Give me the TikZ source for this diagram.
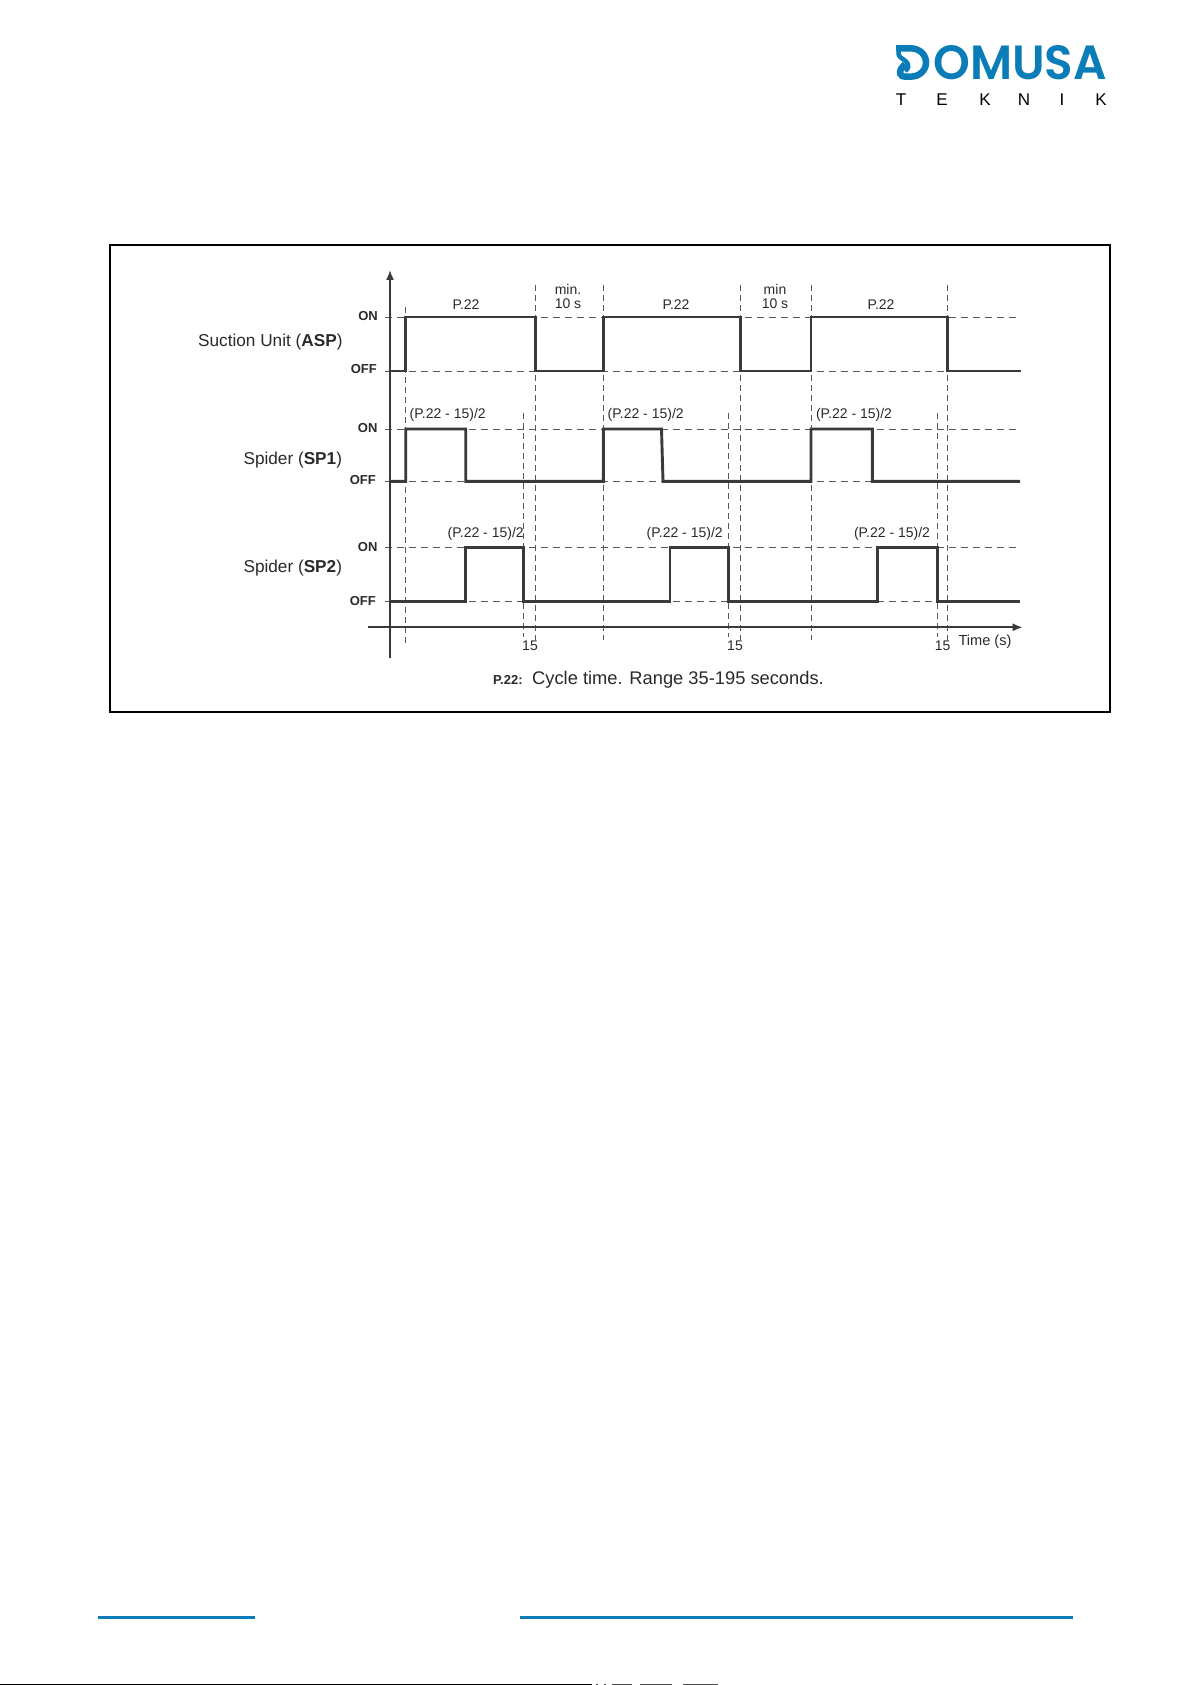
\documentclass[tikz,border=0pt]{standalone}
\usepackage{fontspec}
\setmainfont{Liberation Sans}
\newfontfamily\logofont{Poppins SemiBold}
\usetikzlibrary{arrows.meta}
\definecolor{wave}{HTML}{3A3A3A}
\definecolor{ink}{HTML}{2A2A2A}
\definecolor{brand}{HTML}{0A7DB8}
\tikzset{
  wavepath/.style={draw=wave,line width=2.9pt,line join=miter},
  hguide/.style={draw=wave!85,line width=0.9pt,dash pattern=on 7pt off 5pt},
  vguide/.style={draw=wave!85,line width=0.9pt,dash pattern=on 6pt off 4pt},
  axisline/.style={draw=wave,line width=1.7pt,-{Latex[length=10pt,width=8pt]}},
  framebox/.style={draw=black,line width=1.6pt},
  lbl/.style={inner sep=0pt,text=ink,font=\fontsize{14}{14}\selectfont},
  lvl/.style={inner sep=0pt,anchor=east,text=ink,font=\fontsize{13}{13}\selectfont\bfseries},
  sig/.style={inner sep=0pt,anchor=east,text=ink,font=\fontsize{17.2}{17.2}\selectfont},
  rulebar/.style={fill=brand,draw=none},
  logostroke/.style={draw=brand,line width=6.5pt,line cap=butt},
  tek/.style={inner sep=0pt,text=black,font=\fontsize{17}{17}\selectfont},
}
\begin{document}
\begin{tikzpicture}[x=1pt,y=-1pt]
\useasboundingbox (0,0) rectangle (1191,1685);
\fill[white] (0,0) rectangle (1191,1685);
% logo
\draw[logostroke] (896,48.3) -- (910,48.3) .. controls (920,48.3) and (926,55) .. (926,62.5) .. controls (926,70) and (920,76.7) .. (910,76.7) -- (905,76.7) .. controls (900,76.7) and (899,72) .. (901,69) .. controls (902,67) and (904,66) .. (905,64);
\draw[logostroke,line width=4.5pt] (898.5,48) -- (898.5,54) .. controls (899,58) and (904,59) .. (906.5,62) .. controls (909,65) and (909,69) .. (905,71);
\node[inner sep=0pt,anchor=east,text=brand,xscale=0.975,transform shape] (logo) at (1107,62.5) {\logofont\fontsize{48}{48}\selectfont OMUSA};
\foreach \n/\x/\t in {t1/901/T,t2/942/E,t3/985/K,t4/1024/N,t5/1062/I,t6/1101/K}
  \node[tek] (\t\n) at (\x,100) {\t};
% frame
\draw[framebox] (109.7,245) rectangle (1109.7,711.7);
% horizontal guides
\foreach \y in {317,371,429,481.3,547.7,601.7}
  \draw[hguide] (385,\y) -- (1020,\y);
% vertical guides
\draw[vguide] (405.7,307) -- (405.7,643);
\foreach \x in {535.3,603.3,740.3,811,947.7}
  \draw[vguide] (\x,285) -- (\x,640);
\foreach \x in {523.7,728.3,937.3}
  \draw[vguide] (\x,413) -- (\x,637);
% axes
\draw[axisline] (390,658) -- (390,270);
\draw[axisline] (368,627.3) -- (1022.7,627.3);
% waves
\draw[wavepath] (390,371) -- (405.7,371) -- (405.7,317) -- (535.3,317) -- (535.3,371) -- (603.3,371) -- (603.3,317) -- (740.3,317) -- (740.3,371) -- (811,371) -- (811,317) -- (947.7,317) -- (947.7,371) -- (1021,371);
\draw[wavepath] (390,481.3) -- (405.7,481.3) -- (405.7,429) -- (465.7,429) -- (465.7,481.3) -- (603.3,481.3) -- (603.3,429) -- (661.5,429) -- (663,481.3) -- (811,481.3) -- (811,429) -- (872.3,429) -- (872.3,481.3) -- (1020,481.3);
\draw[wavepath] (390,601.7) -- (465.7,601.7) -- (465.7,547.7) -- (523.7,547.7) -- (523.7,601.7) -- (670,601.7) -- (670,547.7) -- (728.3,547.7) -- (728.3,601.7) -- (877.7,601.7) -- (877.7,547.7) -- (937.3,547.7) -- (937.3,601.7) -- (1020,601.7);
% level labels
\node[lvl] (on1) at (378,315.7) {ON};
\node[lvl] (off1) at (377,369.5) {OFF};
\node[lvl] (on2) at (377.6,428) {ON};
\node[lvl] (off2) at (376,480) {OFF};
\node[lvl] (on3) at (377.6,547) {ON};
\node[lvl] (off3) at (376,600.7) {OFF};
% signal names
\node[sig] (asp) at (342.7,341.7) {Suction Unit (\textbf{ASP})};
\node[sig] (sp1) at (342.2,460) {Spider (\textbf{SP1})};
\node[sig] (sp2) at (342.2,568) {Spider (\textbf{SP2})};
% top labels
\node[lbl] (pa) at (466,305) {P.22};
\node[lbl] (pb) at (676,305) {P.22};
\node[lbl] (pc) at (881,305) {P.22};
\node[lbl] (ma) at (568,289.5) {min.};
\node[lbl] (ma2) at (568,303.5) {10 s};
\node[lbl] (mb) at (775,289.5) {min};
\node[lbl] (mb2) at (775,303.5) {10 s};
\foreach \n/\x/\y in {fa/447.7/415,fb/645.7/415,fc/854/415,fd/485.7/534,fe/684.7/534,ff/892/534}
  \node[lbl] (\n) at (\x,\y) {(P.22 - 15)/2};
\node[lbl] (ca) at (530,646) {15};
\node[lbl] (cb) at (735,646) {15};
\node[lbl] (cc) at (942.7,646) {15};
\node[lbl,font=\fontsize{14.6}{14.6}\selectfont] (tm) at (985,642) {Time (s)};
\node[inner sep=0pt,anchor=base west,text=ink,font=\fontsize{13}{13}\selectfont\bfseries] (capa) at (493,684) {P.22:};
\node[inner sep=0pt,anchor=base west,text=ink,font=\fontsize{18.3}{18.3}\selectfont] (capb) at (532,684) {Cycle time. Range 35-195 seconds.};
% footer bars
\fill[rulebar] (98,1615.5) rectangle (255,1618.8);
\fill[rulebar] (520,1615.5) rectangle (1073,1618.8);
\fill[black] (0,1684) rectangle (592,1685);
\foreach \a/\b in {596/598,604/606,612/632,640/672,683/718}
  \fill[black!70] (\a,1684) rectangle (\b,1685);
\end{tikzpicture}
\end{document}
